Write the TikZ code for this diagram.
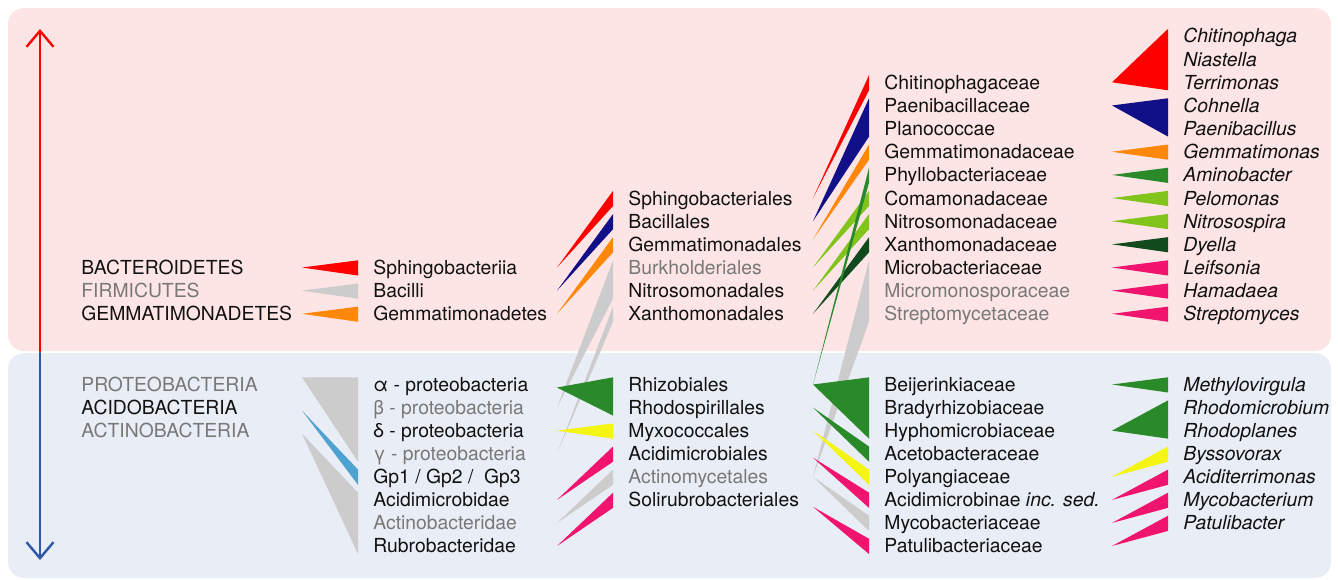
\documentclass[tikz,border=0pt]{standalone}
\usepackage{fontspec}
\setmainfont{TeX Gyre Heros}
\usetikzlibrary{arrows.meta,calc}

\definecolor{bgred}{RGB}{253,229,229}
\definecolor{bgblue}{RGB}{233,237,246}
\definecolor{axisred}{RGB}{255,0,0}
\definecolor{axisblue}{RGB}{47,87,168}
\definecolor{wred}{RGB}{255,0,0}
\definecolor{wnavy}{RGB}{18,16,136}
\definecolor{worange}{RGB}{255,136,10}
\definecolor{wgray}{RGB}{204,204,204}
\definecolor{wgreen}{RGB}{42,138,42}
\definecolor{wlime}{RGB}{128,196,28}
\definecolor{wdark}{RGB}{17,74,28}
\definecolor{wyellow}{RGB}{245,245,20}
\definecolor{wpink}{RGB}{240,20,110}
\definecolor{wblue}{RGB}{77,162,207}
\definecolor{txtgray}{RGB}{120,120,120}
\definecolor{txtblack}{RGB}{17,17,17}

\tikzset{
  taxon/.style={anchor=west, inner sep=0pt, text height=6.95pt, text depth=0pt,
    font=\fontsize{9.67}{11}\selectfont, text=txtblack},
  faint/.style={taxon, text=txtgray},
  genus/.style={taxon, font=\fontsize{9.67}{11}\selectfont\itshape},
  axis/.style={line width=1.2pt, -{Straight Barb[length=8pt,width=13.5pt]}},
}

% wedge from a parent taxon to its first..last child
\newcommand{\wedgefan}[5][0pt]{%
  \fill[#2] ($(#4.west |- #3.west)+(-35.5pt,#1)$) -- ($(#4.west)+(-7.5pt,3.6pt)$)
    -- ($(#5.west)+(-7.5pt,-4pt)$) -- cycle;}

\begin{document}
\begin{tikzpicture}[x=0.5pt,y=-0.5pt]
  \useasboundingbox (0,0) rectangle (1338,579);
  % panels
  \fill[bgred, rounded corners=8pt] (8,8) rectangle (1331,351);
  \fill[bgblue, rounded corners=8pt] (8,353) rectangle (1331,578);

  % axis
  \coordinate (mid) at (40,352);
  \coordinate (up) at (40,29);
  \coordinate (down) at (40,560);
  \draw[axis, axisred] (mid) -- (up);
  \draw[axis, axisblue] (mid) -- (down);

  % phyla
  \foreach \n/\t/\s [count=\k from 10] in {bact/BACTEROIDETES/taxon, firm/FIRMICUTES/faint, gemm/GEMMATIMONADETES/taxon}
    \node[\s] (\n) at (81,{36+23.15*\k}) {\t};
  \foreach \n/\t/\s [count=\k from 0] in {prot/PROTEOBACTERIA/faint, acdo/ACIDOBACTERIA/taxon, actn/ACTINOBACTERIA/faint}
    \node[\s] (\n) at (81,{384.5+23.07*\k}) {\t};

  % classes
  \foreach \n/\t/\s [count=\k from 10] in {sphi/Sphingobacteriia/taxon, baci/Bacilli/taxon, gemt/Gemmatimonadetes/taxon}
    \node[\s] (\n) at (373,{36+23.15*\k}) {\t};
  \foreach \n/\t/\s [count=\k from 0] in {alph/{α - proteobacteria}/taxon, beta/{β - proteobacteria}/faint,
      delt/{δ - proteobacteria}/taxon, gamm/{γ - proteobacteria}/faint, gp/{Gp1 / Gp2 /\ \ Gp3}/taxon,
      acmb/Acidimicrobidae/taxon, actb/Actinobacteridae/faint, rubr/Rubrobacteridae/taxon}
    \node[\s] (\n) at (373,{384.5+23.07*\k}) {\t};

  % orders
  \foreach \n/\t/\s [count=\k from 7] in {spho/Sphingobacteriales/taxon, bacl/Bacillales/taxon,
      gmdl/Gemmatimonadales/taxon, burk/Burkholderiales/faint, nitl/Nitrosomonadales/taxon,
      xanl/Xanthomonadales/taxon}
    \node[\s] (\n) at (628,{36+23.15*\k}) {\t};
  \foreach \n/\t/\s [count=\k from 0] in {rhiz/Rhizobiales/taxon, rhod/Rhodospirillales/taxon,
      myxo/Myxococcales/taxon, acml/Acidimicrobiales/taxon, actl/Actinomycetales/faint,
      soli/Solirubrobacteriales/taxon}
    \node[\s] (\n) at (628,{384.5+23.07*\k}) {\t};

  % families
  \foreach \n/\t/\s [count=\k from 2] in {chif/Chitinophagaceae/taxon, paef/Paenibacillaceae/taxon,
      plan/Planococcae/taxon, gmmf/Gemmatimonadaceae/taxon, phyl/Phyllobacteriaceae/taxon,
      coma/Comamonadaceae/taxon, nitf/Nitrosomonadaceae/taxon, xanf/Xanthomonadaceae/taxon,
      micb/Microbacteriaceae/taxon, micm/Micromonosporaceae/faint, strf/Streptomycetaceae/faint}
    \node[\s] (\n) at (884,{36+23.15*\k}) {\t};
  \foreach \n/\t/\s [count=\k from 0] in {beij/Beijerinkiaceae/taxon, brad/Bradyrhizobiaceae/taxon,
      hyph/Hyphomicrobiaceae/taxon, acet/Acetobacteraceae/taxon, poly/Polyangiaceae/taxon,
      acmf/{Acidimicrobinae \textit{inc. sed.}}/taxon, myco/Mycobacteriaceae/taxon,
      patf/Patulibacteriaceae/taxon}
    \node[\s] (\n) at (884,{384.5+23.07*\k}) {\t};

  % genera
  \foreach \n/\t [count=\k from 0] in {chit/Chitinophaga, nias/Niastella, terr/Terrimonas, cohn/Cohnella,
      paen/Paenibacillus, gmms/Gemmatimonas, amin/Aminobacter, pelo/Pelomonas, nits/Nitrosospira,
      dyel/Dyella, leif/Leifsonia, hama/Hamadaea, strp/Streptomyces}
    \node[genus] (\n) at (1183,{36+23.15*\k}) {\t};
  \foreach \n/\t [count=\k from 0] in {meth/Methylovirgula, rhom/Rhodomicrobium, rhop/Rhodoplanes,
      byss/Byssovorax, acid/Aciditerrimonas, mycb/Mycobacterium, patu/Patulibacter}
    \node[genus] (\n) at (1183,{384.5+23.07*\k}) {\t};

  % phylum -> class
  \wedgefan{wred}{bact}{sphi}{sphi}
  \wedgefan{wgray}{firm}{baci}{baci}
  \wedgefan{worange}{gemm}{gemt}{gemt}
  \wedgefan[3.6pt]{wgray}{prot}{alph}{gamm}
  \wedgefan[-1.5pt]{wblue}{acdo}{gp}{gp}
  \wedgefan[-1.5pt]{wgray}{actn}{acmb}{rubr}

  % class -> order
  \wedgefan{wgray}{beta}{burk}{nitl}
  \wedgefan{wgray}{gamm}{xanl}{xanl}
  \wedgefan{wred}{sphi}{spho}{spho}
  \wedgefan{wnavy}{baci}{bacl}{bacl}
  \wedgefan{worange}{gemt}{gmdl}{gmdl}
  \wedgefan[-1.5pt]{wgreen}{alph}{rhiz}{rhod}
  \wedgefan{wyellow}{delt}{myxo}{myxo}
  \wedgefan{wpink}{acmb}{acml}{acml}
  \wedgefan{wgray}{actb}{actl}{actl}
  \wedgefan{wpink}{rubr}{soli}{soli}

  % order -> family
  \wedgefan{wgray}{actl}{micb}{strf}
  \wedgefan{wred}{spho}{chif}{chif}
  \wedgefan{wnavy}{bacl}{paef}{plan}
  \wedgefan[2.5pt]{worange}{gmdl}{gmmf}{gmmf}
  \wedgefan{wlime}{burk}{coma}{coma}
  \wedgefan{wlime}{nitl}{nitf}{nitf}
  \wedgefan{wdark}{xanl}{xanf}{xanf}
  \wedgefan{wgreen}{rhiz}{phyl}{phyl}
  \wedgefan{wgreen}{rhiz}{beij}{hyph}
  \wedgefan{wgreen}{rhod}{acet}{acet}
  \wedgefan{wyellow}{myxo}{poly}{poly}
  \wedgefan[-2pt]{wpink}{acml}{acmf}{acmf}
  \wedgefan{wgray}{actl}{myco}{myco}
  \wedgefan[-3.5pt]{wpink}{soli}{patf}{patf}

  % family -> genus
  \wedgefan{wred}{chif}{chit}{terr}
  \wedgefan{wnavy}{paef}{cohn}{paen}
  \wedgefan{worange}{gmmf}{gmms}{gmms}
  \wedgefan{wgreen}{phyl}{amin}{amin}
  \wedgefan{wlime}{coma}{pelo}{pelo}
  \wedgefan{wlime}{nitf}{nits}{nits}
  \wedgefan{wdark}{xanf}{dyel}{dyel}
  \wedgefan{wpink}{micb}{leif}{leif}
  \wedgefan{wpink}{micm}{hama}{hama}
  \wedgefan{wpink}{strf}{strp}{strp}
  \wedgefan{wgreen}{beij}{meth}{meth}
  \wedgefan{wgreen}{hyph}{rhom}{rhop}
  \wedgefan{wyellow}{poly}{byss}{byss}
  \wedgefan{wpink}{acmf}{acid}{acid}
  \wedgefan{wpink}{myco}{mycb}{mycb}
  \wedgefan{wpink}{patf}{patu}{patu}
\end{tikzpicture}
\end{document}
